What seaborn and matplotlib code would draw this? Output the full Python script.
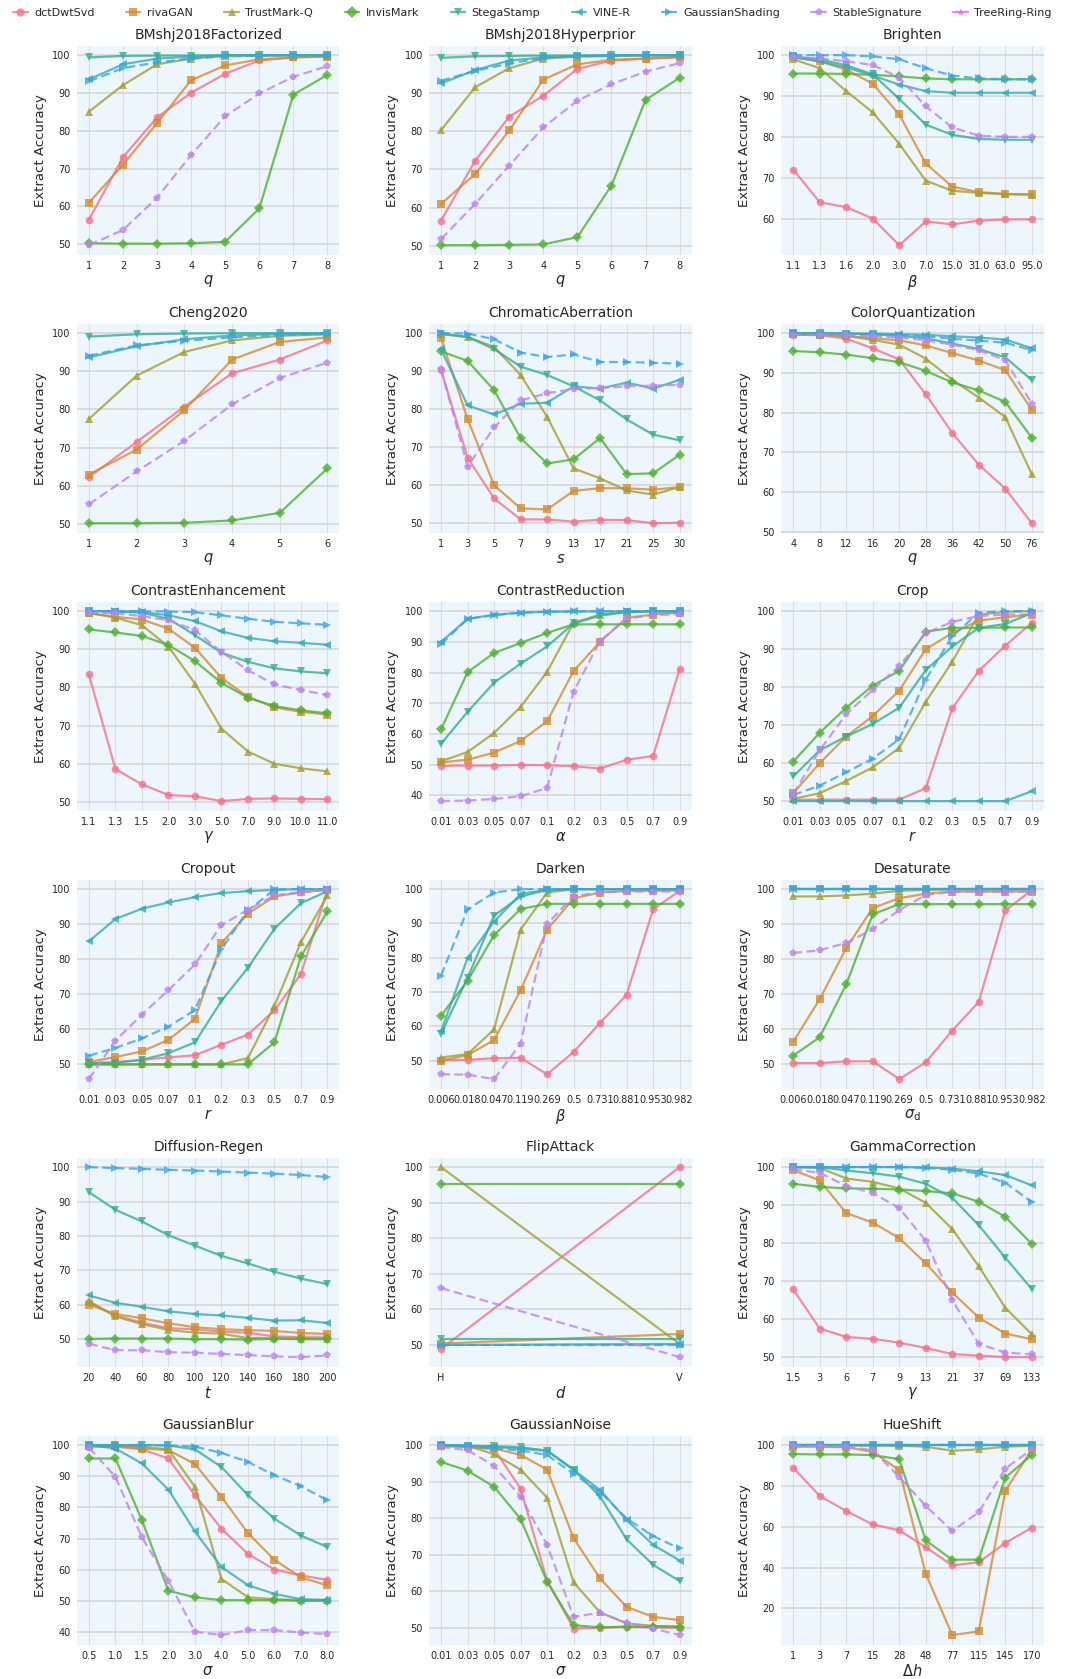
import numpy as np
import pandas as pd
import matplotlib
matplotlib.use("Agg")
import matplotlib.pyplot as plt
from matplotlib.lines import Line2D
import seaborn as sns

METHODS = ["dctDwtSvd", "rivaGAN", "TrustMark-Q", "InvisMark", "StegaStamp",
           "VINE-R", "GaussianShading", "StableSignature", "TreeRing-Ring"]
MARKERS = ["o", "s", "^", "D", "v", "<", ">", "p", "*"]
DASHED = [False, False, False, False, False, False, True, True, True]

# ---------------- data ----------------
q8 = ["1", "2", "3", "4", "5", "6", "7", "8"]
bmf = {
    "dctDwtSvd": [56.5, 73, 83.5, 90, 95, 98.5, 99.3, 99.7],
    "rivaGAN": [61, 71, 82, 93.3, 97.2, 98.8, 99.3, 99.5],
    "TrustMark-Q": [85, 92, 97.5, 99, 99.7, 99.8, 99.8, 99.8],
    "InvisMark": [50.3, 50.2, 50.2, 50.3, 50.7, 59.5, 89.5, 94.7],
    "StegaStamp": [99.3, 99.7, 99.8, 99.8, 99.9, 99.9, 99.9, 99.9],
    "VINE-R": [93.5, 97.5, 99, 99.5, 99.8, 99.9, 99.9, 99.9],
    "GaussianShading": [93, 96.5, 98, 99, 99.6, 99.8, 99.9, 99.9],
    "StableSignature": [49.8, 53.8, 62.3, 73.6, 83.8, 89.8, 94.2, 97],
}
bmh = {
    "dctDwtSvd": [56.6, 72.3, 83.8, 89.3, 96.3, 98.5, 99, 99.5],
    "rivaGAN": [61, 68.8, 80.2, 93.5, 97.5, 98.7, 99, 99.3],
    "TrustMark-Q": [80.3, 91.5, 96.5, 99, 99.5, 99.7, 99.8, 99.8],
    "InvisMark": [50.2, 50.2, 50.3, 50.4, 52.3, 65.8, 88.2, 94],
    "StegaStamp": [99.2, 99.6, 99.7, 99.8, 99.8, 99.9, 99.9, 99.9],
    "VINE-R": [92.5, 96, 98.5, 99.3, 99.7, 99.8, 99.9, 99.9],
    "GaussianShading": [93.2, 95.8, 97.7, 99.2, 99.6, 99.8, 99.9, 99.9],
    "StableSignature": [51.8, 61, 71, 81, 88, 92.3, 95.6, 97.8],
}
brighten_x = ["1.1", "1.3", "1.6", "2.0", "3.0", "7.0", "15.0", "31.0", "63.0", "95.0"]
brighten = {
    "dctDwtSvd": [72, 64, 62.8, 60, 53.5, 59.3, 58.6, 59.5, 59.8, 59.8],
    "rivaGAN": [99.5, 98.5, 96.5, 93, 85.5, 73.5, 67.8, 66.5, 66, 66],
    "TrustMark-Q": [99, 96.8, 91.2, 86, 78.3, 69.3, 66.8, 66.3, 66, 65.8],
    "InvisMark": [95.5, 95.5, 95.4, 95.2, 94.8, 94.3, 94.1, 94.1, 94.1, 94.1],
    "StegaStamp": [99.7, 99, 97.5, 95.3, 89.3, 83, 80.5, 79.5, 79.3, 79.3],
    "VINE-R": [99.5, 98.5, 97, 95, 92.8, 91.2, 90.8, 90.8, 90.8, 90.8],
    "GaussianShading": [100, 100, 100, 99.7, 99, 96.8, 95, 94.3, 94.1, 94.1],
    "StableSignature": [99.5, 99.2, 98.5, 97.6, 94.5, 87.5, 82.3, 80.3, 80, 80],
}
q6 = ["1", "2", "3", "4", "5", "6"]
cheng = {
    "dctDwtSvd": [62.3, 71.5, 80.7, 89.4, 93, 98],
    "rivaGAN": [63, 69.5, 79.8, 93, 97.6, 98.8],
    "TrustMark-Q": [77.5, 88.8, 95, 98, 99.2, 99.6],
    "InvisMark": [50.3, 50.3, 50.4, 51, 53, 64.6],
    "StegaStamp": [99, 99.6, 99.8, 99.9, 99.9, 99.9],
    "VINE-R": [93.6, 96.5, 98.3, 99.3, 99.7, 99.9],
    "GaussianShading": [94, 96.7, 97.9, 98.8, 99.4, 99.7],
    "StableSignature": [55.2, 63.8, 71.8, 81.3, 88.2, 92.2],
}
chroma_x = ["1", "3", "5", "7", "9", "13", "17", "21", "25", "30"]
chroma = {
    "dctDwtSvd": [90.3, 67.2, 56.5, 51, 51, 50.4, 50.9, 50.8, 50, 50.1],
    "rivaGAN": [98.7, 77.4, 60, 53.9, 53.6, 58.5, 59.2, 59.2, 58.8, 59.5],
    "TrustMark-Q": [99.7, 99, 96.4, 89, 78, 64.4, 61.8, 58.6, 57.5, 59.5],
    "InvisMark": [95.2, 92.7, 85, 72.4, 65.7, 66.8, 72.4, 62.9, 63.1, 68],
    "StegaStamp": [99.9, 99, 95.8, 91.2, 89, 86, 82.3, 77.3, 73.3, 71.8],
    "VINE-R": [95.7, 81, 78.6, 81.4, 81.7, 86, 85.4, 87, 85.4, 87.7],
    "GaussianShading": [100, 99.9, 98.4, 94.9, 93.7, 94.4, 92.4, 92.4, 92.2, 92],
    "StableSignature": [90.5, 64.9, 75.2, 82.3, 84.2, 85.3, 85.6, 86, 86.2, 86.4],
}
cq_x = ["4", "8", "12", "16", "20", "28", "36", "42", "50", "76"]
cq = {
    "dctDwtSvd": [99.6, 99.5, 98.6, 96.2, 93.4, 84.6, 74.9, 66.9, 60.9, 52.2],
    "rivaGAN": [99.7, 99.6, 99.3, 98.7, 98.2, 96.9, 95, 93.1, 90.7, 80.7],
    "TrustMark-Q": [99.7, 99.6, 99.3, 98.3, 97.1, 93.6, 88.3, 83.8, 78.9, 64.5],
    "InvisMark": [95.5, 95.2, 94.6, 93.7, 92.7, 90.5, 87.6, 85.6, 82.7, 73.7],
    "StegaStamp": [100, 100, 99.9, 99.7, 99.3, 98.7, 97.4, 96, 93.9, 88.2],
    "VINE-R": [100, 100, 99.9, 99.9, 99.7, 99.6, 99.2, 98.9, 98.4, 96.2],
    "GaussianShading": [100, 99.9, 99.8, 99.7, 99.6, 99.2, 98.6, 98.1, 97.6, 95.7],
    "StableSignature": [99.6, 99.6, 99.5, 99.2, 98.9, 98.2, 97.1, 95.7, 93.2, 82.3],
}
ce_x = ["1.1", "1.3", "1.5", "2.0", "3.0", "5.0", "7.0", "9.0", "10.0", "11.0"]
ce = {
    "dctDwtSvd": [83.4, 58.6, 54.6, 51.8, 51.5, 50.2, 50.8, 50.9, 50.8, 50.7],
    "rivaGAN": [99.4, 98.5, 97.8, 95.4, 90.4, 82.5, 77.5, 74.8, 73.6, 72.9],
    "TrustMark-Q": [99.6, 98.3, 96.3, 90.7, 81, 69.2, 63.2, 60, 58.8, 58],
    "InvisMark": [95.2, 94.4, 93.5, 91.1, 86.9, 81.2, 77.3, 75.1, 74, 73.2],
    "StegaStamp": [100, 99.9, 99.6, 98, 93.7, 89.1, 86.7, 85, 84.2, 83.7],
    "VINE-R": [100, 100, 99.8, 98.9, 97.4, 94.7, 93, 92.1, 91.7, 91.2],
    "GaussianShading": [100, 100, 100, 99.9, 99.7, 98.9, 98, 97.2, 96.8, 96.4],
    "StableSignature": [99.6, 99.4, 98.7, 97.6, 95, 89.3, 84.5, 80.8, 79.3, 78],
}
alpha_x = ["0.01", "0.03", "0.05", "0.07", "0.1", "0.2", "0.3", "0.5", "0.7", "0.9"]
cr = {
    "dctDwtSvd": [49.6, 49.7, 49.7, 49.9, 49.8, 49.5, 48.7, 51.6, 52.8, 81.1],
    "rivaGAN": [50.7, 51.6, 53.9, 57.7, 64.1, 80.5, 90, 97.8, 98.9, 99.5],
    "TrustMark-Q": [51.1, 54.1, 60.3, 68.8, 80.2, 96.2, 98.9, 99.8, 99.9, 99.9],
    "InvisMark": [61.5, 80.1, 86.4, 89.6, 92.9, 95.7, 95.7, 95.7, 95.7, 95.7],
    "StegaStamp": [56.8, 67.2, 76.7, 82.9, 88.5, 96, 98.5, 99.7, 99.9, 99.9],
    "VINE-R": [90, 97.5, 98.8, 99.5, 99.8, 99.9, 99.9, 100, 100, 100],
    "GaussianShading": [89.2, 97.5, 98.7, 99.5, 99.8, 99.9, 100, 100, 100, 100],
    "StableSignature": [38.1, 38.3, 38.8, 39.7, 42.4, 73.8, 90.3, 97.6, 98.7, 99],
}
r_x = ["0.01", "0.03", "0.05", "0.07", "0.1", "0.2", "0.3", "0.5", "0.7", "0.9"]
crop = {
    "dctDwtSvd": [50.4, 50.4, 50.4, 50.4, 50.4, 53.4, 74.4, 84.3, 90.9, 96.9],
    "rivaGAN": [52.1, 60, 67, 72.4, 79.1, 90, 94.2, 97.5, 98.4, 99.1],
    "TrustMark-Q": [50.6, 52.1, 55.3, 58.9, 64, 76.1, 86.7, 99.1, 99.8, 100],
    "InvisMark": [60.4, 68, 74.6, 80.4, 84.3, 94.6, 95.6, 95.6, 95.7, 95.7],
    "StegaStamp": [56.5, 63.4, 67, 70.3, 74.6, 84.5, 90.7, 95.6, 96.6, 99.5],
    "VINE-R": [50, 50, 50, 50, 50, 50, 50, 50, 50, 52.6],
    "GaussianShading": [51.6, 54.1, 57.6, 61.2, 66.3, 82, 93.4, 99.6, 100, 100],
    "StableSignature": [51.9, 63.4, 72.9, 79.3, 85.5, 94.2, 97.2, 98.7, 99.1, 99.1],
}
cropout = {
    "dctDwtSvd": [50.3, 50.7, 51.3, 52, 52.6, 55.6, 58.5, 65.4, 75.8, 99.8],
    "rivaGAN": [50.7, 52.1, 53.7, 57, 63, 84.6, 93, 97.9, 99.1, 99.8],
    "TrustMark-Q": [50, 50, 50, 50, 50, 50, 51.8, 66.7, 84.9, 98.2],
    "InvisMark": [50, 50, 50, 50, 50, 50, 50, 56.3, 80.8, 93.7],
    "StegaStamp": [50.4, 50.4, 51.3, 53.2, 56.3, 68.1, 77.6, 88.7, 96, 99.4],
    "VINE-R": [85.1, 91.5, 94.4, 96.2, 97.7, 98.9, 99.4, 99.8, 100, 100],
    "GaussianShading": [52.5, 54.7, 57.4, 60.8, 65.5, 82.9, 93.9, 99.9, 100, 100],
    "StableSignature": [45.8, 56.8, 64.2, 71.2, 78.5, 89.8, 94.1, 98.2, 99.1, 99.8],
}
beta_x = ["0.006", "0.018", "0.047", "0.119", "0.269", "0.5", "0.731", "0.881", "0.953", "0.982"]
darken = {
    "dctDwtSvd": [50.2, 50.2, 50.7, 50.8, 46, 52.5, 61, 69.2, 94.1, 99.5],
    "rivaGAN": [50, 51.6, 56, 70.5, 88.2, 97.3, 99, 99.5, 99.5, 99.6],
    "TrustMark-Q": [50.9, 51.9, 59.1, 88.2, 99, 100, 100, 100, 100, 100],
    "InvisMark": [63.1, 73.3, 86.6, 94.2, 95.7, 95.7, 95.7, 95.7, 95.7, 95.7],
    "StegaStamp": [57.9, 74.1, 92.3, 97.8, 99.8, 100, 100, 100, 100, 100],
    "VINE-R": [58.6, 79.9, 90.5, 98.6, 99.8, 100, 100, 100, 100, 100],
    "GaussianShading": [74.8, 94.1, 99, 100, 100, 100, 100, 100, 100, 100],
    "StableSignature": [46, 45.9, 44.6, 54.9, 89.8, 98, 99, 99.3, 99.3, 99.3],
}
desat = {
    "dctDwtSvd": [50.2, 50.2, 50.7, 50.7, 45.6, 50.4, 59.5, 67.7, 93.9, 99.7],
    "rivaGAN": [56.3, 68.5, 83.1, 94.6, 97.4, 98.7, 99.3, 99.3, 99.3, 99.3],
    "TrustMark-Q": [97.9, 97.9, 98.2, 98.7, 99.5, 99.8, 99.9, 99.9, 99.9, 99.9],
    "InvisMark": [52.3, 57.6, 72.7, 92.8, 95.7, 95.7, 95.7, 95.7, 95.7, 95.7],
    "StegaStamp": [99.9, 99.9, 99.9, 99.9, 99.9, 99.9, 99.9, 99.9, 99.9, 99.9],
    "VINE-R": [100, 100, 100, 100, 100, 100, 100, 100, 100, 100],
    "GaussianShading": [100, 100, 100, 100, 100, 100, 100, 100, 100, 100],
    "StableSignature": [81.7, 82.5, 84.6, 88.5, 94, 98.3, 99.2, 99.3, 99.3, 99.3],
}
t_x = ["20", "40", "60", "80", "100", "120", "140", "160", "180", "200"]
regen = {
    "dctDwtSvd": [60.8, 56.9, 54.8, 53.2, 52.9, 52.2, 51.9, 50.8, 50.6, 50.5],
    "rivaGAN": [60, 57.3, 56.1, 54.6, 53.5, 52.9, 52.6, 52.4, 51.8, 51.5],
    "TrustMark-Q": [61, 56.6, 54.4, 52.7, 51.9, 51.6, 50.3, 50.4, 50.2, 50.2],
    "InvisMark": [50.1, 50.2, 50.2, 50.2, 50, 50, 49.9, 50.1, 50, 50],
    "StegaStamp": [92.7, 87.6, 84.2, 80.2, 77.2, 74.2, 72, 69.6, 67.6, 66],
    "VINE-R": [62.7, 60.6, 59.4, 58.1, 57.3, 56.9, 56.2, 55.4, 55.5, 54.7],
    "GaussianShading": [100, 99.7, 99.5, 99.2, 99, 98.7, 98.4, 98.1, 97.7, 97.1],
    "StableSignature": [48.7, 46.8, 46.8, 46.2, 46.1, 45.7, 45.4, 45, 44.8, 45.3],
}
d_x = ["H", "V"]
flip = {
    "dctDwtSvd": [48.9, 100],
    "rivaGAN": [50.4, 53.1],
    "TrustMark-Q": [100, 50.3],
    "InvisMark": [95.3, 95.3],
    "StegaStamp": [51.6, 51.6],
    "VINE-R": [50, 50.3],
    "GaussianShading": [50, 50],
    "StableSignature": [66, 46.6],
}
gamma_x = ["1.5", "3", "6", "7", "9", "13", "21", "37", "69", "133"]
gammac = {
    "dctDwtSvd": [67.8, 57.5, 55.3, 54.8, 53.8, 52.4, 50.8, 50.4, 50, 50],
    "rivaGAN": [99.2, 96.5, 87.9, 85.4, 81.3, 74.7, 67, 60.4, 56.2, 54.7],
    "TrustMark-Q": [100, 99.8, 97, 96.1, 94.4, 90.6, 83.7, 73.9, 63, 56],
    "InvisMark": [95.6, 94.8, 94.4, 94.3, 94.1, 93.7, 93.1, 90.9, 86.9, 79.8],
    "StegaStamp": [100, 100, 99.1, 98.4, 97.5, 95.6, 91.9, 84.7, 76.2, 67.9],
    "VINE-R": [100, 100, 100, 100, 100, 99.9, 99.6, 98.9, 97.9, 95.2],
    "GaussianShading": [100, 100, 100, 100, 100, 99.8, 99.3, 98.3, 95.9, 90.8],
    "StableSignature": [99.4, 98.5, 95, 93.2, 89.2, 80.6, 65, 53.5, 51.2, 50.7],
}
blur_x = ["0.5", "1.0", "1.5", "2.0", "3.0", "4.0", "5.0", "6.0", "7.0", "8.0"]
blur = {
    "dctDwtSvd": [99.5, 99.5, 98.6, 95.7, 83.9, 73.2, 65.1, 60.1, 58.2, 56.8],
    "rivaGAN": [99.7, 99.7, 98.9, 98.4, 93.9, 83.4, 71.8, 63.2, 57.6, 55],
    "TrustMark-Q": [100, 99.8, 99.5, 98.6, 86.6, 57.1, 51.2, 50.6, 50.3, 50.3],
    "InvisMark": [95.7, 95.7, 75.9, 53.3, 51.2, 50.3, 50.3, 50.3, 50.1, 50.1],
    "StegaStamp": [100, 100, 100, 99.9, 98.6, 93, 83.9, 76.4, 71, 67.3],
    "VINE-R": [100, 98.9, 94.1, 85.7, 72.3, 60.9, 55.1, 52.3, 50.6, 50.4],
    "GaussianShading": [100, 100, 100, 99.9, 99.5, 97.5, 94.6, 90.3, 86.8, 82.3],
    "StableSignature": [99.2, 89.8, 70.4, 56.5, 40.2, 39.1, 40.7, 40.7, 39.9, 39.4],
}
sigma_x = ["0.01", "0.03", "0.05", "0.07", "0.1", "0.2", "0.3", "0.5", "0.7", "0.9"]
noise = {
    "dctDwtSvd": [99.8, 99.5, 98.9, 88.1, 62.9, 49.8, 50, 50.3, 50.1, 50],
    "rivaGAN": [99.8, 99.5, 99.1, 97.3, 93.3, 74.5, 63.5, 55.7, 53, 52.1],
    "TrustMark-Q": [100, 99.8, 97.5, 93.3, 85.6, 62.4, 54.2, 51.2, 50.5, 50.3],
    "InvisMark": [95.4, 93, 88.6, 79.8, 62.6, 50.7, 50.1, 50.3, 50.3, 50.3],
    "StegaStamp": [100, 99.8, 99.7, 99.4, 98.5, 93.3, 85.9, 74.2, 67.2, 62.8],
    "VINE-R": [100, 99.8, 99.5, 99, 98.4, 93.2, 87.7, 79.5, 72.7, 68.4],
    "GaussianShading": [100, 99.7, 99.1, 98.5, 97.3, 92.1, 87.2, 79.9, 75.1, 71.7],
    "StableSignature": [99.5, 98.6, 94.3, 85.9, 72.7, 53, 54.1, 51.4, 49.8, 48],
}
hue_x = ["1", "3", "7", "15", "28", "48", "77", "115", "145", "170"]
hue = {
    "dctDwtSvd": [88.9, 75.1, 67.7, 61.1, 58.2, 50, 41, 42.6, 52, 59.5],
    "rivaGAN": [99.2, 99.2, 98.9, 96.7, 87.7, 36.9, 6.9, 8.7, 77.5, 97.9],
    "TrustMark-Q": [100, 100, 99.7, 99.7, 99.7, 99.2, 97.2, 97.9, 99.2, 99.7],
    "InvisMark": [95.6, 95.4, 95.4, 95.1, 93.1, 53.3, 43.8, 43.9, 84.1, 95.1],
    "StegaStamp": [100, 100, 100, 100, 100, 100, 100, 100, 100, 100],
    "VINE-R": [100, 100, 100, 100, 100, 100, 100, 100, 100, 100],
    "GaussianShading": [100, 100, 100, 100, 100, 100, 100, 100, 100, 100],
    "StableSignature": [99.5, 99.5, 99.2, 97.5, 84.4, 70.2, 57.9, 67.1, 88.5, 97.9],
}

PANELS = [
    ("BMshj2018Factorized", r"$q$", q8, bmf),
    ("BMshj2018Hyperprior", r"$q$", q8, bmh),
    ("Brighten", r"$\beta$", brighten_x, brighten),
    ("Cheng2020", r"$q$", q6, cheng),
    ("ChromaticAberration", r"$s$", chroma_x, chroma),
    ("ColorQuantization", r"$q$", cq_x, cq),
    ("ContrastEnhancement", r"$\gamma$", ce_x, ce),
    ("ContrastReduction", r"$\alpha$", alpha_x, cr),
    ("Crop", r"$r$", r_x, crop),
    ("Cropout", r"$r$", r_x, cropout),
    ("Darken", r"$\beta$", beta_x, darken),
    ("Desaturate", r"$\sigma_{\mathrm{d}}$", beta_x, desat),
    ("Diffusion-Regen", r"$t$", t_x, regen),
    ("FlipAttack", r"$d$", d_x, flip),
    ("GammaCorrection", r"$\gamma$", gamma_x, gammac),
    ("GaussianBlur", r"$\sigma$", blur_x, blur),
    ("GaussianNoise", r"$\sigma$", sigma_x, noise),
    ("HueShift", r"$\Delta h$", hue_x, hue),
]

# ---------------- style ----------------
sns.set_style("whitegrid")
plt.rcParams["font.family"] = ["DejaVu Sans"]
palette = dict(zip(METHODS, sns.color_palette("husl", 9)))
marker_map = dict(zip(METHODS, MARKERS))
dash_map = {m: ((4, 2) if d else "") for m, d in zip(METHODS, DASHED)}

fig, axes = plt.subplots(6, 3, figsize=(10.65, 16.79), dpi=100)
fig.subplots_adjust(left=0.0723, right=0.980, top=0.9728, bottom=0.0205,
                    wspace=0.342, hspace=0.33)

for ax, (title, xlab, xt, data) in zip(axes.flat, PANELS):
    rows = []
    for m in METHODS:
        if m in data:
            for xv, yv in zip(xt, data[m]):
                rows.append({"x": xv, "y": yv, "method": m})
    df = pd.DataFrame(rows)
    present = [m for m in METHODS if m in data]
    sns.lineplot(data=df, x="x", y="y", hue="method", style="method",
                 hue_order=present, style_order=present,
                 palette={m: palette[m] for m in present},
                 markers={m: marker_map[m] for m in present},
                 dashes={m: dash_map[m] for m in present},
                 sort=False, errorbar=None, legend=False, ax=ax,
                 linewidth=1.6, markersize=5.5, alpha=0.8,
                 markeredgewidth=0)
    ax.set_facecolor("#eef6fd")
    ax.set_title(title, fontsize=10, pad=5)
    ax.set_xlabel(xlab, fontsize=10.5, labelpad=1.5)
    ax.set_ylabel("Extract Accuracy", fontsize=9.5)
    ax.tick_params(axis="both", labelsize=7, length=0, pad=4.5)
    ax.grid(axis="y", color="#d3d3d3", linewidth=1.1)
    ax.grid(axis="x", color="#dcdcdc", linewidth=0.8)
    for sp in ax.spines.values():
        sp.set_visible(False)

handles = []
for m in METHODS:
    handles.append(Line2D([0], [0], color=palette[m], marker=marker_map[m],
                          linestyle="-", linewidth=1.6, markersize=6,
                          markeredgewidth=0, alpha=0.8))
fig.legend(handles, METHODS, loc="upper left", ncol=9, frameon=False,
           bbox_to_anchor=(0.005, 1.0, 0.99, 0.0), mode="expand",
           fontsize=8, handlelength=1.3, handletextpad=0.6,
           borderaxespad=0.3)

fig.savefig("out.png", dpi=100)
